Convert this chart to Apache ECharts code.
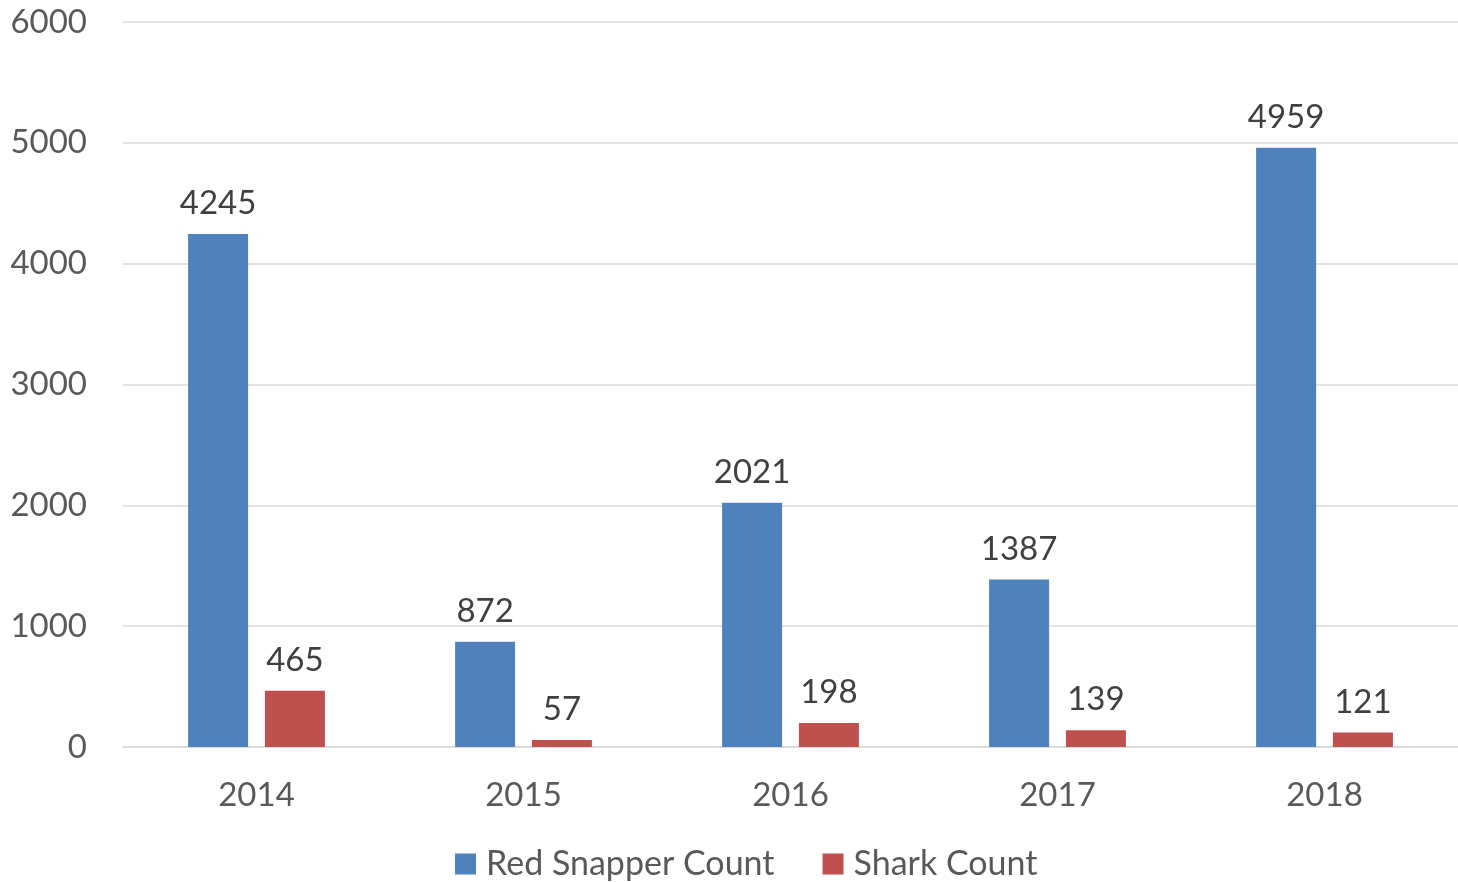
<!DOCTYPE html>
<html><head><meta charset="utf-8">
<script src="https://cdn.jsdelivr.net/npm/echarts@6/dist/echarts.min.js"></script>
<style>html,body{margin:0;padding:0;background:#fff}#c{width:1458px;height:882px}</style>
</head><body><div id="c"></div>
<script>
const categories = ['2014','2015','2016','2017','2018'];
const redSnapper = [4245, 872, 2021, 1387, 4959];
const shark = [465, 57, 198, 139, 121];
const yTicks = [0, 1000, 2000, 3000, 4000, 5000, 6000];

const FONT = 'Lato, "Open Sans", sans-serif';
const chart = echarts.init(document.getElementById('c'), null, {renderer: 'canvas'});
const labelStyle = {show: true, position: 'top', distance: 14, color: '#404040', fontSize: 33, fontFamily: FONT};
chart.setOption({
  animation: false,
  backgroundColor: '#fff',
  grid: {left: 123, right: 0, top: 22, bottom: 135, containLabel: false},
  legend: {
    top: 842, left: 450, itemWidth: 21, itemHeight: 21, itemGap: 48,
    icon: 'rect',
    textStyle: {color: '#595959', fontSize: 34, fontFamily: FONT, padding: [0,0,0,5]},
    data: ['Red Snapper Count', 'Shark Count']
  },
  xAxis: {
    type: 'category', data: categories,
    axisLine: {show: true, lineStyle: {color: '#d9d9d9', width: 1.5}},
    axisTick: {show: false},
    axisLabel: {color: '#595959', fontSize: 33, fontFamily: FONT, margin: 32}
  },
  yAxis: {
    type: 'value', min: yTicks[0], max: yTicks[yTicks.length-1], interval: 1000,
    axisLine: {show: false}, axisTick: {show: false},
    splitLine: {lineStyle: {color: '#d9d9d9', width: 1.5}},
    axisLabel: {color: '#595959', fontSize: 33, fontFamily: FONT, margin: 36, formatter: v => String(v)}
  },
  series: [
    {name: 'Red Snapper Count', type: 'bar', data: redSnapper, barWidth: 60, barGap: '28%',
     itemStyle: {color: '#4f81bd'}, label: labelStyle},
    {name: 'Shark Count', type: 'bar', data: shark, barWidth: 60, barGap: '28%',
     itemStyle: {color: '#c0504d'}, label: labelStyle}
  ]
});
</script></body></html>
